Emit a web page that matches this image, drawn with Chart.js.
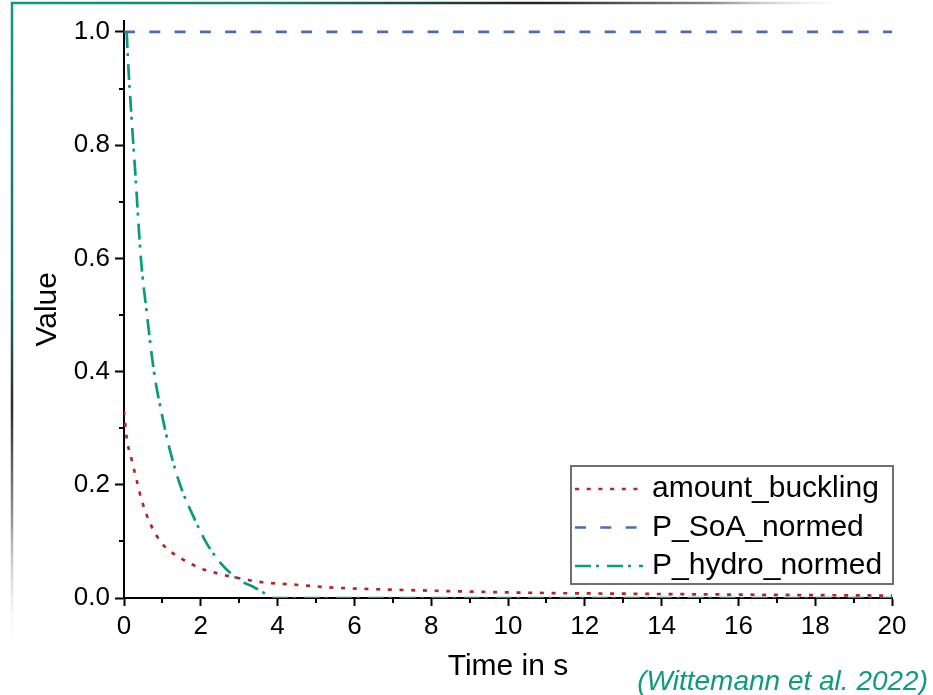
<!DOCTYPE html>
<html>
<head>
<meta charset="utf-8">
<script src="https://cdn.jsdelivr.net/npm/chart.js@4.4.0/dist/chart.umd.min.js"></script>
<style>
  html, body { margin: 0; padding: 0; background: #fff; }
  #wrap { width: 933px; height: 695px; }
</style>
</head>
<body>
<div id="wrap"><canvas id="chart" width="933" height="695"></canvas></div>
<script>
// values
const bucklingT = [0, 0.07, 0.2, 0.33, 0.46, 0.68, 0.98, 1.46, 1.98, 2.58, 3.15, 3.46, 4.34, 5.57, 6.8, 7.97, 9.45, 10.96, 13, 15, 17, 20];
const bucklingV = [0.33, 0.283, 0.244, 0.208, 0.173, 0.132, 0.097, 0.071, 0.053, 0.041, 0.033, 0.029, 0.024, 0.018, 0.015, 0.013, 0.0106, 0.0088, 0.0076, 0.0065, 0.0055, 0.0042];

const soaT = [0, 20];
const soaV = [1, 1];

const hydroT = [0.07, 0.1, 0.2, 0.3, 0.44, 0.6, 0.78, 1.0, 1.2, 1.46, 1.8, 2.15, 2.5, 2.84, 3.1, 3.36, 3.62, 3.88, 5, 10, 15, 20];
const hydroV = [1.0, 0.955, 0.845, 0.745, 0.6, 0.5, 0.4, 0.32, 0.26, 0.2, 0.145, 0.097, 0.063, 0.04, 0.028, 0.02, 0.01, 0, 0, 0, 0, 0];

const seriesLabels = ['amount_buckling', 'P_SoA_normed', 'P_hydro_normed'];
const xTicks = [0, 2, 4, 6, 8, 10, 12, 14, 16, 18, 20];
const yTicks = [0, 0.2, 0.4, 0.6, 0.8, 1.0];
const xMinor = [1, 3, 5, 7, 9, 11, 13, 15, 17, 19];
const yMinor = [0.1, 0.3, 0.5, 0.7, 0.9];
const citation = '(Wittemann et al. 2022)';

const FONT = '"Liberation Sans", Arial, sans-serif';
const RED = '#B0262B', BLUE = '#4C6BB5', TEAL = '#0A9A7E';

const pts = (ts, vs) => ts.map((t, i) => ({ x: t, y: vs[i] }));

// teal -> dark -> faded border along the top and left edge
const framePlugin = {
  id: 'frame',
  beforeDraw(chart) {
    const ctx = chart.ctx;
    ctx.save();
    ctx.lineWidth = 2.5;
    let g = ctx.createLinearGradient(12, 0, 862, 0);
    g.addColorStop(0, '#10997f');
    g.addColorStop(0.3, '#14806c');
    g.addColorStop(0.62, '#222');
    g.addColorStop(0.82, '#888');
    g.addColorStop(1, 'rgba(255,255,255,0)');
    ctx.strokeStyle = g;
    ctx.beginPath(); ctx.moveTo(11, 3); ctx.lineTo(862, 3); ctx.stroke();
    g = ctx.createLinearGradient(0, 2, 0, 655);
    g.addColorStop(0, '#10997f');
    g.addColorStop(0.45, '#17705f');
    g.addColorStop(0.62, '#2a2a2a');
    g.addColorStop(0.8, '#999');
    g.addColorStop(1, 'rgba(255,255,255,0)');
    ctx.strokeStyle = g;
    ctx.beginPath(); ctx.moveTo(12, 2); ctx.lineTo(12, 655); ctx.stroke();
    ctx.restore();
  },
};

// minor ticks, legend box and citation
const extrasPlugin = {
  id: 'extras',
  afterDraw(chart) {
    const ctx = chart.ctx;
    const { x, y } = chart.scales;
    const area = chart.chartArea;
    ctx.save();
    ctx.strokeStyle = '#000';
    ctx.lineWidth = 2;
    ctx.beginPath();
    for (const v of xMinor) {
      const px = Math.round(x.getPixelForValue(v));
      ctx.moveTo(px, area.bottom); ctx.lineTo(px, area.bottom + 5);
    }
    for (const v of yMinor) {
      const py = Math.round(y.getPixelForValue(v));
      ctx.moveTo(area.left, py); ctx.lineTo(area.left - 5, py);
    }
    ctx.stroke();

    // legend
    const bx = area.right - 321, by = area.bottom - 132, bw = 322, bh = 118;
    ctx.strokeStyle = '#707070';
    ctx.lineWidth = 2;
    ctx.strokeRect(bx, by, bw, bh);
    ctx.font = '30px ' + FONT;
    ctx.textBaseline = 'middle';
    ctx.fillStyle = '#000';
    chart.data.datasets.forEach((ds, i) => {
      const ry = by + 23 + i * 38.5;
      ctx.strokeStyle = ds.borderColor;
      ctx.lineWidth = ds.borderWidth;
      ctx.setLineDash(ds.borderDash);
      ctx.beginPath(); ctx.moveTo(bx + 4, ry); ctx.lineTo(bx + 72, ry); ctx.stroke();
      ctx.setLineDash([]);
      ctx.fillText(ds.label, bx + 81, ry);
    });

    ctx.font = 'italic 28px ' + FONT;
    ctx.fillStyle = '#0F9A80';
    ctx.textAlign = 'right';
    ctx.textBaseline = 'alphabetic';
    ctx.fillText(citation, 928, 690);
    ctx.restore();
  },
};

const tickFont = { family: FONT, size: 26 };
const titleFont = { family: FONT, size: 30 };

new Chart(document.getElementById('chart'), {
  type: 'line',
  data: {
    datasets: [
      { label: seriesLabels[0], data: pts(bucklingT, bucklingV), borderColor: RED, borderWidth: 2.7, borderDash: [4, 7.7] },
      { label: seriesLabels[1], data: pts(soaT, soaV), borderColor: BLUE, borderWidth: 2.7, borderDash: [11, 14.3] },
      { label: seriesLabels[2], data: pts(hydroT, hydroV), borderColor: TEAL, borderWidth: 2.7, borderDash: [16, 5, 3, 8] },
    ],
  },
  options: {
    responsive: false,
    animation: false,
    layout: { padding: { left: 0, right: 41, top: 20, bottom: 0 } },
    elements: { point: { radius: 0 }, line: { cubicInterpolationMode: 'monotone', fill: false } },
    plugins: { legend: { display: false }, tooltip: { enabled: false } },
    scales: {
      x: {
        type: 'linear', min: 0, max: 20,
        afterBuildTicks: s => { s.ticks = xTicks.map(v => ({ value: v })); },
        afterFit: s => { s.height = 97; },
        ticks: { color: '#000', font: tickFont, padding: 5, maxRotation: 0, autoSkip: false },
        grid: { drawOnChartArea: false, color: '#000', tickLength: 8, tickWidth: 2 },
        border: { color: '#000', width: 2 },
        title: { display: true, text: 'Time in s', color: '#000', font: titleFont, padding: { top: 0, bottom: 10 } },
      },
      y: {
        type: 'linear', min: 0, max: 1.02,
        afterBuildTicks: s => { s.ticks = yTicks.map(v => ({ value: v })); },
        afterFit: s => { s.width = 124; },
        ticks: { color: '#000', font: tickFont, padding: 5, callback: v => v.toFixed(1) },
        grid: { drawOnChartArea: false, color: '#000', tickLength: 9, tickWidth: 2 },
        border: { color: '#000', width: 2 },
        title: { display: true, text: 'Value', color: '#000', font: titleFont, padding: { top: 30, bottom: 0 } },
      },
    },
  },
  plugins: [framePlugin, extrasPlugin],
});
</script>
</body>
</html>
